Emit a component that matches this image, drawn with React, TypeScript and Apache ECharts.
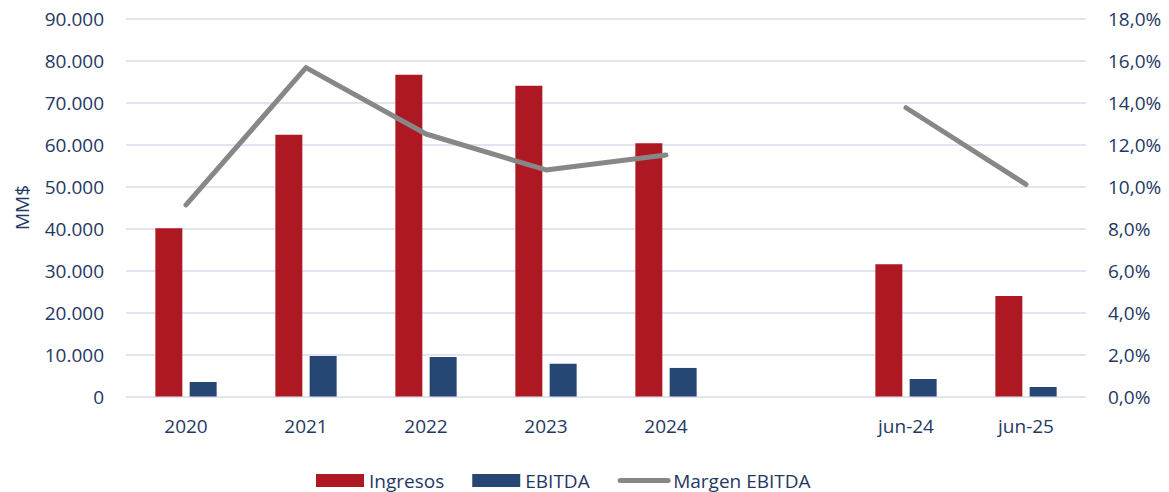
import React, { useEffect, useRef } from "react";
import * as echarts from "echarts";

const categories = ["2020", "2021", "2022", "2023", "2024", "", "jun-24", "jun-25"];
const ingresos = [40050, 62300, 76600, 74000, 60300, null, 31500, 23900];
const ebitda = [3450, 9650, 9400, 7800, 6800, null, 4170, 2260];
const margen = [9.12, 15.66, 12.5, 10.79, 11.5, null, 13.75, 10.1];

const leftTicks = { min: 0, max: 90000, interval: 10000 };
const rightTicks = { min: 0, max: 18, interval: 2 };

const TEXT = "#1F3864";
const FONT = "'Open Sans', sans-serif";

export default function App() {
  const ref = useRef<HTMLDivElement>(null);
  useEffect(() => {
    if (!ref.current) return;
    const chart = echarts.init(ref.current, null, { renderer: "svg" });
    chart.setOption({
      animation: false,
      textStyle: { fontFamily: FONT, color: TEXT },
      grid: { left: 126, right: 83, top: 18.5, bottom: 95.5, containLabel: false },
      legend: {
        bottom: -3,
        left: 311,
        itemWidth: 48,
        itemHeight: 13,
        itemGap: 28,
        textStyle: { fontFamily: FONT, color: TEXT, fontSize: 19 },
        data: [
          { name: "Ingresos", icon: "rect" },
          { name: "EBITDA", icon: "rect" },
          {
            name: "Margen EBITDA",
            itemStyle: { opacity: 0 },
            lineStyle: { width: 5, cap: "round", color: "#878787" },
          },
        ],
      },
      xAxis: {
        type: "category",
        data: categories,
        axisLine: { show: false },
        axisTick: { show: false },
        axisLabel: { color: TEXT, fontSize: 19, fontFamily: FONT, margin: 20 },
      },
      yAxis: [
        {
          type: "value",
          ...leftTicks,
          name: "MM$",
          nameLocation: "middle",
          nameGap: 95,
          nameTextStyle: { color: TEXT, fontSize: 19, fontFamily: FONT },
          axisLine: { show: false },
          axisTick: { show: false },
          axisLabel: {
            color: TEXT,
            fontSize: 19,
            fontFamily: FONT,
            margin: 22,
            formatter: (v: number) => v.toLocaleString("de-DE"),
          },
          splitLine: { lineStyle: { color: "#D9DBEE", width: 1.5 } },
        },
        {
          type: "value",
          ...rightTicks,
          position: "right",
          axisLine: { show: false },
          axisTick: { show: false },
          axisLabel: {
            color: TEXT,
            fontSize: 19,
            fontFamily: FONT,
            margin: 22,
            formatter: (v: number) => v.toFixed(1).replace(".", ",") + "%",
          },
          splitLine: { show: false },
        },
      ],
      series: [
        {
          name: "Ingresos",
          type: "bar",
          data: ingresos,
          barWidth: 27,
          barGap: "27%",
          itemStyle: { color: "#AD1823" },
        },
        {
          name: "EBITDA",
          type: "bar",
          data: ebitda,
          barWidth: 27,
          itemStyle: { color: "#264774" },
        },
        {
          name: "Margen EBITDA",
          type: "line",
          yAxisIndex: 1,
          data: margen,
          symbol: "none",
          connectNulls: false,
          lineStyle: { color: "#878787", width: 5, cap: "round", join: "round" },
          itemStyle: { color: "#878787" },
        },
      ],
    });
    return () => chart.dispose();
  }, []);
  return <div ref={ref} style={{ width: 1169, height: 492, position: "absolute", left: 0, top: 0 }} />;
}
